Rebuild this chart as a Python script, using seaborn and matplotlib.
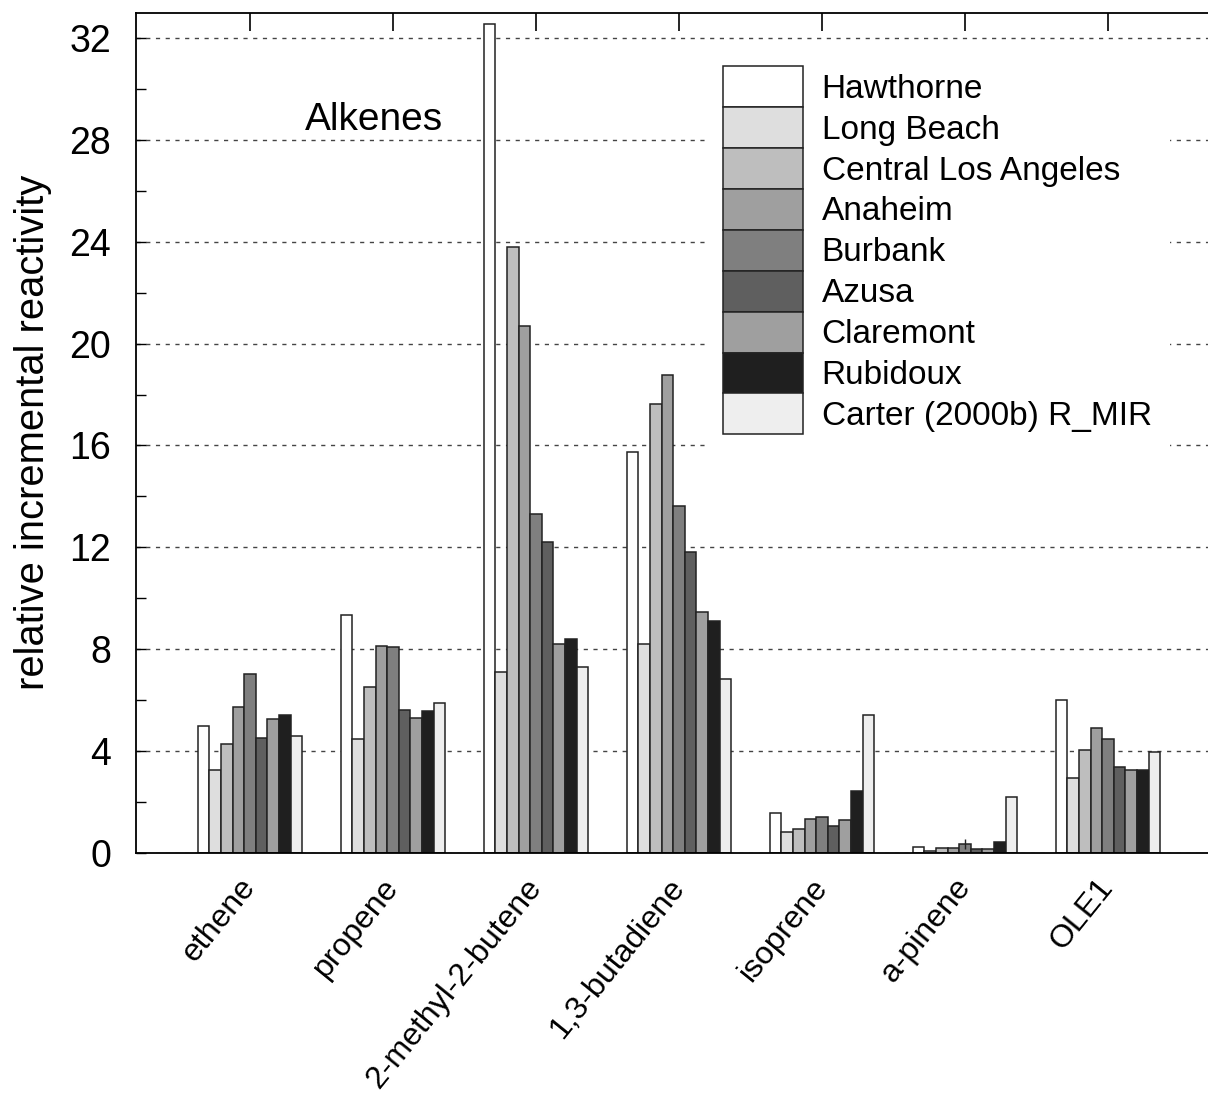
import numpy as np
import pandas as pd
import matplotlib
matplotlib.use("Agg")
import matplotlib.pyplot as plt
from matplotlib.ticker import MultipleLocator
import seaborn as sns

categories = ["ethene", "propene", "2-methyl-2-butene", "1,3-butadiene",
              "isoprene", "a-pinene", "OLE1"]
sites = ["Hawthorne", "Long Beach", "Central Los Angeles", "Anaheim", "Burbank",
         "Azusa", "Claremont", "Rubidoux", "Carter (2000b) R_MIR"]

hawthorne = [4.99, 9.35, 32.55, 15.75, 1.56, 0.25, 6.00]
long_beach = [3.25, 4.47, 7.10, 8.22, 0.84, 0.09, 2.95]
central_la = [4.28, 6.50, 23.80, 17.63, 0.94, 0.18, 4.04]
anaheim = [5.72, 8.12, 20.70, 18.78, 1.32, 0.18, 4.90]
burbank = [7.03, 8.08, 13.30, 13.63, 1.42, 0.35, 4.48]
azusa = [4.50, 5.62, 12.20, 11.80, 1.07, 0.14, 3.38]
claremont = [5.25, 5.31, 8.20, 9.48, 1.30, 0.15, 3.24]
rubidoux = [5.40, 5.56, 8.40, 9.10, 2.43, 0.43, 3.24]
carter = [4.60, 5.87, 7.30, 6.85, 5.42, 2.18, 3.95]
burbank_err = [0, 0, 0, 0, 0, 0.2, 0]

series = [hawthorne, long_beach, central_la, anaheim, burbank, azusa,
          claremont, rubidoux, carter]
colors = ["#ffffff", "#dedede", "#bebebe", "#9f9f9f", "#7f7f7f", "#5f5f5f",
          "#9f9f9f", "#1f1f1f", "#eeeeee"]
yticks = [0, 4, 8, 12, 16, 20, 24, 28, 32]

rows = []
for s, vals in zip(sites, series):
    for c, v in zip(categories, vals):
        rows.append({"compound": c, "site": s, "value": v})
df = pd.DataFrame(rows)

sns.set_style("white")
plt.rcParams['font.family'] = ['Liberation Sans', 'DejaVu Sans']
plt.rcParams['text.color'] = 'black'
plt.rcParams['axes.labelcolor'] = 'black'
plt.rcParams['xtick.color'] = 'black'
plt.rcParams['ytick.color'] = 'black'

fig = plt.figure(figsize=(12.08, 11.02), dpi=100)
ax = fig.add_axes([136 / 1208, 1 - 853 / 1102, 1 - 136 / 1208, (853 - 12.5) / 1102])

sns.barplot(data=df, x="compound", y="value", hue="site", order=categories,
            hue_order=sites, palette=colors, saturation=1, width=0.73,
            edgecolor="#222222", linewidth=1.1, errorbar=None, ax=ax)

# error bar for Burbank
bcont = ax.containers[sites.index("Burbank")]
for p, v, e in zip(bcont.patches, burbank, burbank_err):
    if e > 0:
        ax.errorbar(p.get_x() + p.get_width() / 2, v, yerr=e, color="#222222",
                    lw=1.0, capsize=0)

ax.set_ylim(0, 33)
ax.set_xlim(-0.797, 6.70)
ax.set_yticks(yticks)
ax.yaxis.set_minor_locator(MultipleLocator(2))
ax.set_axisbelow(True)
ax.yaxis.grid(True, which="major", linestyle=(0, (3, 4)), color="#444444", lw=1.0)
ax.xaxis.grid(False)

for side in ["left", "top", "bottom"]:
    ax.spines[side].set_visible(True)
    ax.spines[side].set_color("black")
    ax.spines[side].set_linewidth(1.3)
ax.spines["right"].set_visible(False)

ax.tick_params(axis="y", which="both", direction="in", left=True, right=False,
               labelsize=27, pad=18, labelcolor="black")
ax.tick_params(axis="y", which="major", length=7, width=1.0)
ax.tick_params(axis="y", which="minor", length=7, width=1.0)
ax.tick_params(axis="x", which="major", bottom=False, top=True, direction="in",
               length=13, width=1.2, labelsize=23, pad=21, labelcolor="black")
ax.set_xticks(range(len(categories)))
ax.set_xticklabels(categories, rotation=51, ha="right", va="center",
                   rotation_mode="anchor")

ax.set_xlabel("")
ax.set_ylabel("relative incremental reactivity", fontsize=28.7, color="black")
ax.yaxis.set_label_coords(-0.078, 0.5)

ax.text((305 - 136) / 1072, (853 - 130) / 840.5, "Alkenes", transform=ax.transAxes,
        fontsize=28, ha="left", va="baseline", color="black")

handles, labels = ax.get_legend_handles_labels()
old = ax.get_legend()
if old is not None:
    old.remove()
leg = ax.legend(handles, labels, loc="upper left",
                bbox_to_anchor=(705 / 1208, 1 - 48 / 1102),
                bbox_transform=fig.transFigure, fontsize=24, frameon=True,
                fancybox=False, edgecolor="white", facecolor="white", framealpha=1,
                borderpad=0.55, borderaxespad=0, labelspacing=0,
                handlelength=2.4, handleheight=1.51, handletextpad=0.55,
                labelcolor="black")
leg.get_frame().set_linewidth(0)

fig.savefig("out.png", dpi=100)
